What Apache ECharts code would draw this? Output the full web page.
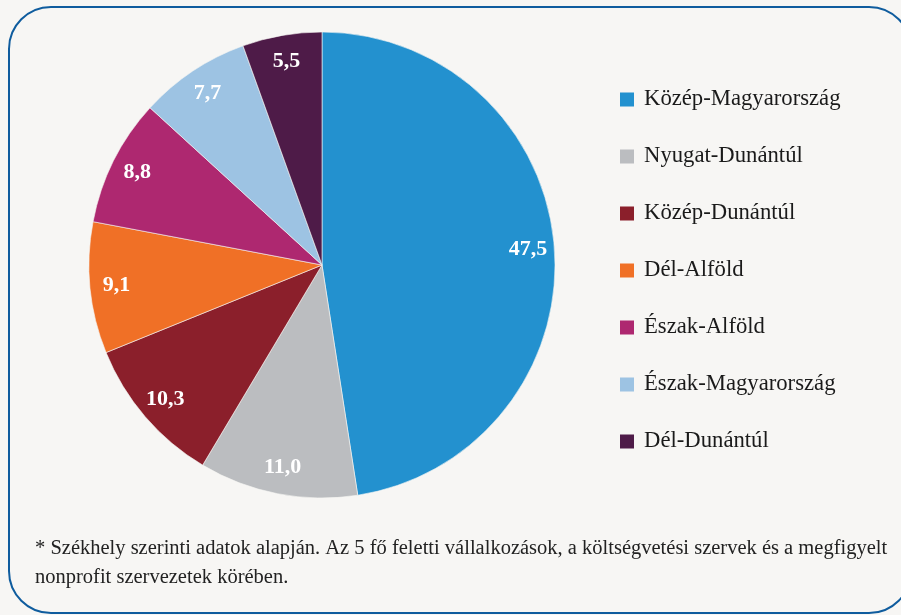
<!DOCTYPE html>
<html>
<head>
<meta charset="utf-8">
<script src="https://cdn.jsdelivr.net/npm/echarts@6/dist/echarts.min.js"></script>
<style>
  html, body { margin: 0; padding: 0; background: #f7f6f4; }
  #chart { width: 901px; height: 615px; }
</style>
</head>
<body>
<div id="chart"></div>
<script>
// régiók és arányok (%)
const regions = ['Közép-Magyarország', 'Nyugat-Dunántúl', 'Közép-Dunántúl', 'Dél-Alföld', 'Észak-Alföld', 'Észak-Magyarország', 'Dél-Dunántúl'];
const shares = [47.5, 11.0, 10.3, 9.1, 8.8, 7.7, 5.5];
const colors = ['#2391cf', '#bbbdc0', '#8b1f2b', '#f07026', '#ae2870', '#9dc3e3', '#4e1b48'];
const note = '* Székhely szerinti adatok alapján. Az 5 fő feletti vállalkozások, a költségvetési szervek és a megfigyelt\nnonprofit szervezetek körében.';

const serif = '"Liberation Serif", "DejaVu Serif", serif';

const pieData = regions.map((name, i) => ({
    name: name,
    value: shares[i],
    itemStyle: { color: colors[i] }
}));

const chart = echarts.init(document.getElementById('chart'));

chart.setOption({
    backgroundColor: '#f7f6f4',
    animation: false,
    legend: {
        orient: 'vertical',
        left: 618,
        top: 88,
        padding: 0,
        itemWidth: 16,
        itemHeight: 16,
        itemGap: 34,
        icon: 'rect',
        textStyle: { fontFamily: serif, fontSize: 22.7, lineHeight: 22, color: '#1a1a1a', padding: [0, 0, 0, 4] },
        data: regions
    },
    graphic: [
        {
            type: 'rect',
            shape: { x: 9, y: 7, width: 902, height: 606, r: 42 },
            style: { fill: 'none', stroke: '#0f5c9e', lineWidth: 2 },
            silent: true
        },
        {
            type: 'text',
            left: 35,
            top: 534,
            style: {
                text: note,
                font: '20.5px ' + serif,
                fill: '#222',
                lineHeight: 29
            }
        }
    ],
    series: [
        {
            name: 'arány',
            type: 'pie',
            center: [322, 265],
            radius: 233,
            startAngle: 90,
            clockwise: true,
            label: { show: false },
            labelLine: { show: false },
            itemStyle: { borderColor: '#f7f6f4', borderWidth: 0.6 },
            data: pieData
        },
        {
            // csak a feliratokhoz: átlátszó gyűrű, így a szám a szélhez közel kerül
            name: 'felirat',
            type: 'pie',
            center: [322, 265],
            radius: [174, 233],
            startAngle: 90,
            clockwise: true,
            silent: true,
            legendHoverLink: false,
            itemStyle: { color: 'rgba(0,0,0,0)' },
            label: {
                show: true,
                position: 'inside',
                fontFamily: serif,
                fontSize: 22,
                fontWeight: 'bold',
                color: '#ffffff',
                formatter: p => p.value.toFixed(1).replace('.', ',')
            },
            labelLine: { show: false },
            data: regions.map((name, i) => ({ name: name + ' ', value: shares[i] }))
        }
    ]
});
</script>
</body>
</html>
